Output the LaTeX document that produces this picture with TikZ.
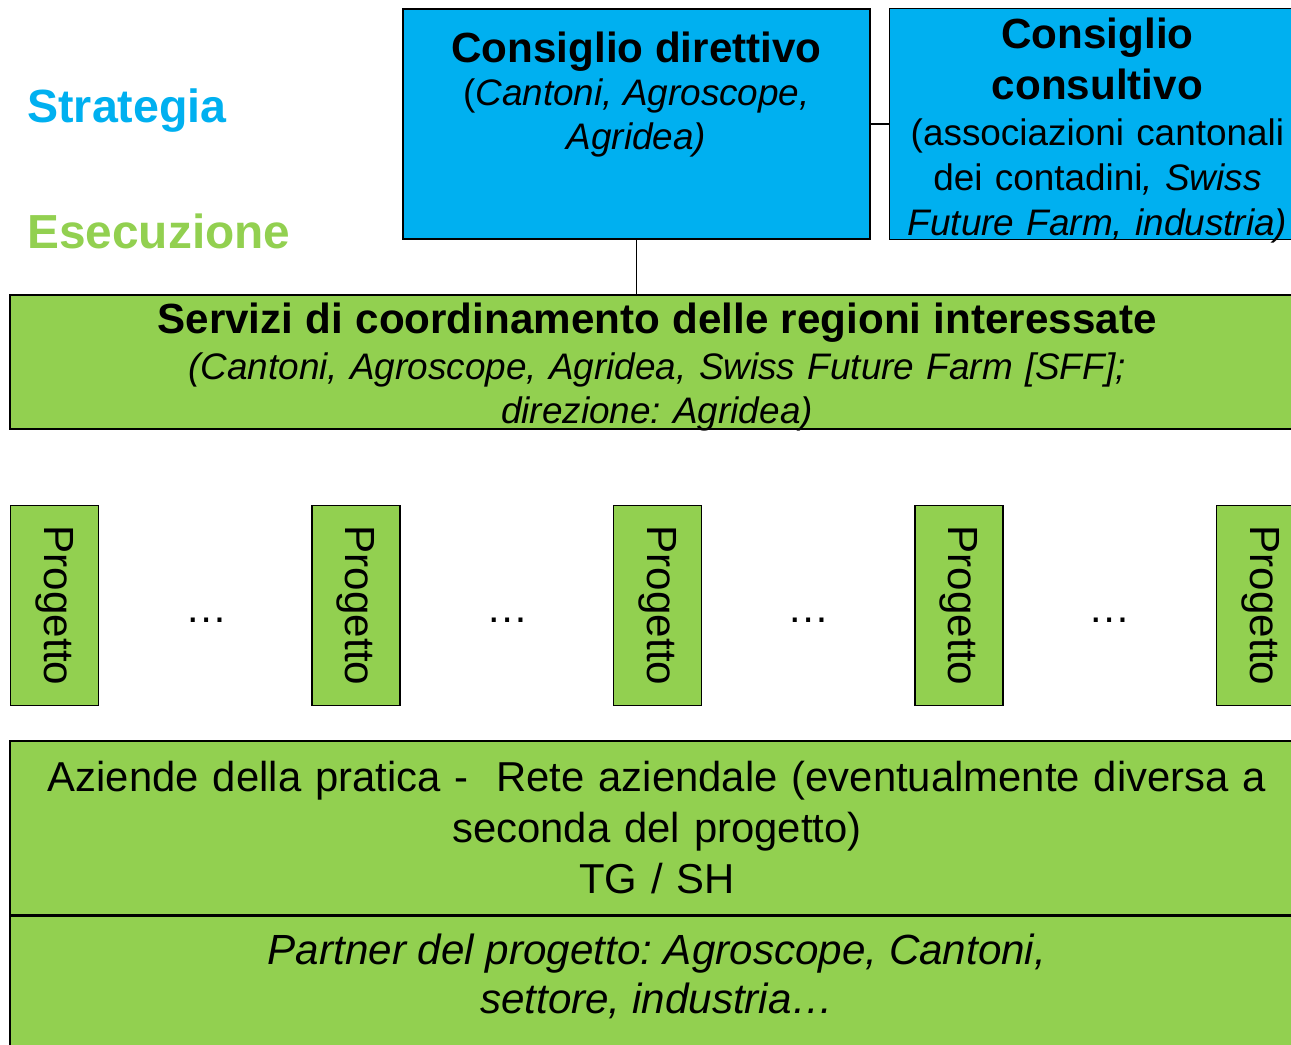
\documentclass[tikz,border=0pt]{standalone}
\usepackage{fontspec}
\setmainfont{Liberation Sans}
\usetikzlibrary{positioning}
\definecolor{cblue}{HTML}{00B0F0}
\definecolor{cgreen}{HTML}{92D050}
\frenchspacing

\begin{document}
\begin{tikzpicture}[
  box/.style={draw, rectangle, line width=0.8pt, inner sep=0pt, align=center},
  bluebox/.style={box, fill=cblue},
  greenbox/.style={box, fill=cgreen},
  livello/.style={anchor=base west, inner sep=0pt, font=\fontsize{26.5}{32}\selectfont\bfseries},
  progbox/.style={greenbox, rotate=-90, minimum width=4cm, minimum height=1.76cm, font=\fontsize{24}{29}\selectfont}
]
\useasboundingbox (0,0) rectangle (25.82,-20.9);
\clip (0,0) rectangle (25.82,-20.9);

% livelli
\node[livello, text=cblue] (strategia) at (0.54,-2.46) {Strategia};
\node[livello, text=cgreen, font=\fontsize{27.2}{32}\selectfont\bfseries] (esecuzione) at (0.54,-4.98) {Esecuzione};

% Consiglio direttivo
\node[bluebox, minimum width=9.34cm, font=\fontsize{21}{25}\selectfont] (direttivo) at (12.73,-2.48) {%
\parbox[c][4.6cm][t]{9.2cm}{\centering\rule{0pt}{1.06cm}{\fontsize{24}{25}\selectfont\bfseries Consiglio direttivo}\\
(\textit{Cantoni, Agroscope,}\\
\textit{Agridea)}}%
};

% Consiglio consultivo
\node[bluebox, minimum width=8.32cm, minimum height=4.62cm, text width=8cm, font=\fontsize{21}{25.5}\selectfont, right=0.36cm of direttivo] (consultivo) {%
{\fontsize{24}{29}\selectfont\bfseries\rule{0pt}{0.72cm}Consiglio\\[3.2pt]
consultivo}\\[1.1pt]
(associazioni cantonali\\
dei contadini\textit{, Swiss}\\
\smash{\textit{Future Farm, industria)}}%
};

% Servizi di coordinamento
\node[greenbox, minimum width=25.88cm, minimum height=2.68cm, text width=25cm, font=\fontsize{21}{25}\selectfont] (servizi) at (13.14,-7.24) {%
{\fontsize{24}{25}\selectfont\bfseries\rule{0pt}{0.66cm}Servizi di coordinamento delle regioni interessate}\\[1.7pt]
\textit{(Cantoni, Agroscope, Agridea, Swiss Future Farm [SFF];}\\
\smash{\textit{direzione: Agridea)}}%
};

% progetti
\foreach \i in {0,...,4}
  \node[progbox] (progetto\i) at ({1.09+6.03*\i},-12.11) {Progetto};
\foreach \i in {0,...,3}
  \node[font=\fontsize{24}{29}\selectfont, inner sep=0pt] (puntini\i) at ({4.14+6.02*\i},-12.4) {\dots};

% Aziende della pratica
\node[greenbox, minimum width=25.88cm, minimum height=3.48cm, text width=25.5cm, font=\fontsize{23.8}{29}\selectfont] (aziende) at (13.14,-16.56) {%
Aziende della pratica - \ Rete aziendale (eventualmente diversa a\\
seconda del progetto)\\
TG / SH%
};

% Partner del progetto
\node[greenbox, minimum width=25.88cm, font=\fontsize{24}{28.2}\selectfont, below=0pt of aziende] (partner) {%
\parbox[c][3cm][t]{25cm}{\centering\rule{0pt}{0.96cm}\textit{Partner del progetto: Agroscope, Cantoni,}\\
\textit{settore, industria\dots}}%
};

% collegamenti
\draw[line width=0.8pt] (direttivo.east) -- (consultivo.west);
\draw[thin] (direttivo.south) -- (direttivo.south |- servizi.north);
\end{tikzpicture}
\end{document}
